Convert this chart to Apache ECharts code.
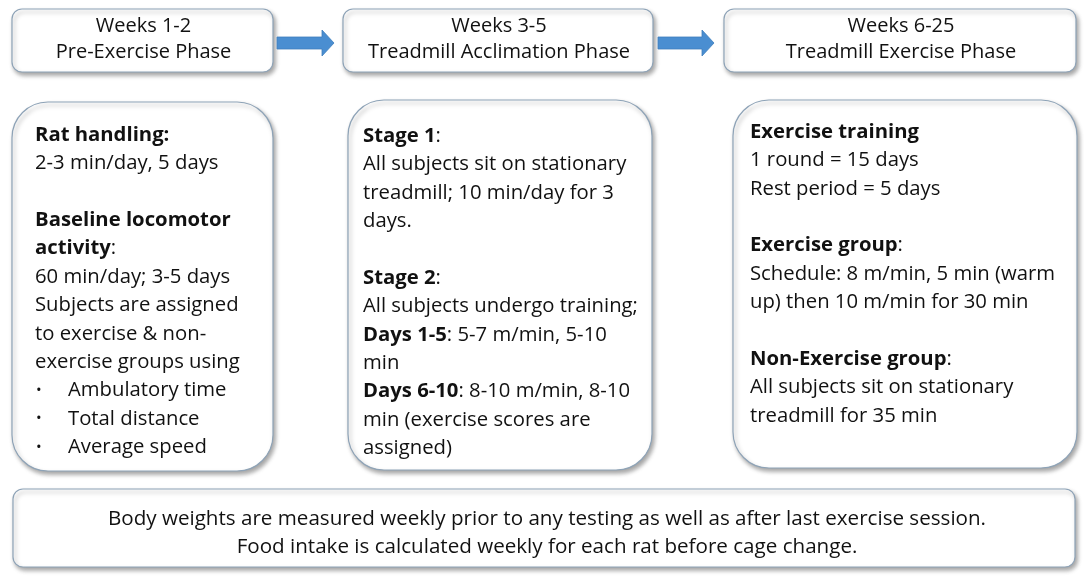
<!DOCTYPE html>
<html><head><meta charset="utf-8">
<script src="https://cdn.jsdelivr.net/npm/echarts@6/dist/echarts.min.js"></script>
<style>html,body{margin:0;padding:0;background:#fff}#c{width:1084px;height:577px}</style>
</head><body><div id="c"></div>
<script>
// ---- content ----
const phaseWeeks = ['Weeks 1-2', 'Weeks 3-5', 'Weeks 6-25'];
const phaseNames = ['Pre-Exercise Phase', 'Treadmill Acclimation Phase', 'Treadmill Exercise Phase'];
const box1Lines = ['**Rat handling:**', '2-3 min/day, 5 days', '', '**Baseline locomotor**', '**activity**:',
  '60 min/day; 3-5 days', 'Subjects are assigned', 'to exercise & non-', 'exercise groups using',
  '• Ambulatory time', '• Total distance', '• Average speed'];
const box2Lines = ['**Stage 1**:', 'All subjects sit on stationary', 'treadmill; 10 min/day for 3', 'days.', '',
  '**Stage 2**:', 'All subjects undergo training;', '**Days 1-5**: 5-7 m/min, 5-10', 'min',
  '**Days 6-10**: 8-10 m/min, 8-10', 'min (exercise scores are', 'assigned)'];
const box3Lines = ['**Exercise training**', '1 round = 15 days', 'Rest period = 5 days', '',
  '**Exercise group**:', 'Schedule: 8 m/min, 5 min (warm', 'up) then 10 m/min for 30 min', '',
  '**Non-Exercise group**:', 'All subjects sit on stationary', 'treadmill for 35 min'];
const footerLines = ['Body weights are measured weekly prior to any testing as well as after last exercise session.',
  'Food intake is calculated weekly for each rat before cage change.'];

// ---- layout ----
const FONT = '"Open Sans"';
const FS = 20.3;
const LH = 28.4;
const TXT = '#111111';
const BORDER = '#8ea3b7';
const topBoxes = [{x:12,y:9,w:261,h:63},{x:343,y:9,w:310,h:63},{x:724,y:9,w:352,h:63}];
const midBoxes = [{x:12,y:102,w:261,h:369,tx:35,ty:135},{x:348,y:100,w:304,h:370,tx:363,ty:136},{x:733,y:100,w:344,h:368,tx:750,ty:132}];
const footBox = {x:13,y:489,w:1062,h:78};
const arrows = [{x0:277,x1:334,cy:43},{x0:658,x1:714,cy:43}];

const shadow = {shadowBlur:4, shadowOffsetX:2, shadowOffsetY:3, shadowColor:'rgba(0,0,0,0.35)'};
function box(b, r){
  return {type:'rect', shape:{x:b.x,y:b.y,width:b.w,height:b.h,r:r},
    style:Object.assign({fill:'#fff', stroke:BORDER, lineWidth:1.2}, shadow), z:1};
}
function toRich(s){
  const parts = s.split('**');
  let out = '';
  parts.forEach((p,i)=>{ if(p) out += (i%2 ? '{b|' : '{n|') + p + '}'; });
  return out;
}
const rich = {
  b:{font:'bold '+FS+'px '+FONT, fill:TXT},
  n:{font:FS+'px '+FONT, fill:TXT},
  d:{font:'15px '+FONT, fill:TXT}
};
function lineText(x, y, s){
  return {type:'text', x:x, y:y, z:5,
    style:{text:s.startsWith('{') ? s : toRich(s), rich:rich, font:FS+'px '+FONT, fill:TXT, align:'left', verticalAlign:'middle', textAlign:'left', textVerticalAlign:'middle'}};
}
const els = [];
topBoxes.forEach((b,i)=>{
  els.push(box(b,10));
  [phaseWeeks[i], phaseNames[i]].forEach((t,k)=>{
    els.push({type:'text', x:b.x+b.w/2+1, y:26.5+k*25.5, z:5,
      style:{text:t, font:'20px '+FONT, fill:TXT, align:'center', verticalAlign:'middle', textAlign:'center', textVerticalAlign:'middle'}});
  });
});
arrows.forEach(a=>{
  const h = a.x1-12;
  els.push({type:'polygon', z:3, shape:{points:[[a.x0,a.cy-6],[h,a.cy-6],[h,a.cy-13],[a.x1,a.cy],[h,a.cy+13],[h,a.cy+6],[a.x0,a.cy+6]]},
    style:{fill:'#4a8ed1', stroke:'#3f7fbd', lineWidth:0.8}});
});
[box1Lines, box2Lines, box3Lines].forEach((lines,i)=>{
  const b = midBoxes[i];
  els.push(box(b,36));
  lines.forEach((s,k)=>{
    if(!s) return;
    const y = b.ty + k*LH;
    if(s.startsWith('• ')){
      els.push(lineText(b.tx+1, y, '{d|•}'));
      els.push(lineText(b.tx+33, y, s.slice(2)));
    } else {
      els.push(lineText(b.tx, y, s));
    }
  });
});
els.push(box(footBox,10));
footerLines.forEach((t,k)=>{
  els.push({type:'text', x:547, y:519+k*28, z:5,
    style:{text:t, font:'20.6px '+FONT, fill:TXT, align:'center', verticalAlign:'middle', textAlign:'center', textVerticalAlign:'middle'}});
});

const chart = echarts.init(document.getElementById('c'), null, {renderer:'canvas'});
chart.setOption({backgroundColor:'#fff', animation:false, graphic:{elements:els}});
</script></body></html>
